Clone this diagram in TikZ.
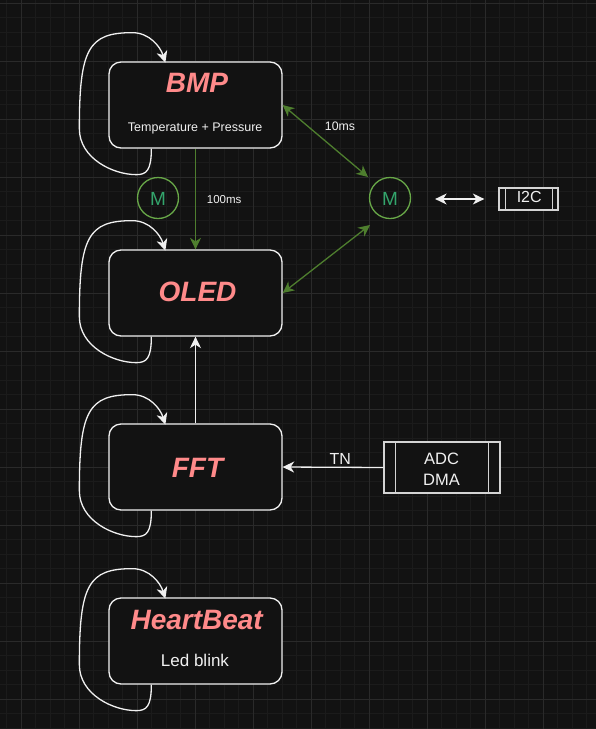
\documentclass[tikz,border=0pt]{standalone}
\usepackage{fontspec}
\setmainfont{Liberation Sans}
\usetikzlibrary{arrows.meta,calc}
\definecolor{bg}{HTML}{121212}
\definecolor{gridminor}{HTML}{1B1B1B}
\definecolor{gridmajor}{HTML}{2A2A2A}
\definecolor{boxline}{HTML}{F0F0F0}
\definecolor{titlered}{HTML}{FF8A8A}
\definecolor{txt}{HTML}{F0F0F0}
\definecolor{garrowc}{HTML}{4E7E2E}
\definecolor{mcircle}{HTML}{68A848}
\definecolor{mtext}{HTML}{33A56C}
\definecolor{procline}{HTML}{D4D4D4}
\begin{document}
\begin{tikzpicture}[x=1pt,y=-1pt,
  box/.style={draw=boxline, fill=bg, rounded corners=12pt, minimum width=173pt, minimum height=86pt, line width=1.3pt, inner sep=0pt},
  title/.style={text=titlered, font=\fontsize{28}{30}\selectfont\bfseries\itshape, anchor=base, inner sep=0pt},
  sub/.style={text=txt, anchor=base, inner sep=0pt},
  proc/.style={draw=procline, fill=bg, line width=1.3pt, inner sep=0pt},
  mnode/.style={circle, draw=mcircle, line width=1.3pt, minimum size=41pt, inner sep=0pt},
  mlabel/.style={text=mtext, font=\fontsize{19}{21}\selectfont, anchor=base, inner sep=0pt},
  wline/.style={draw=boxline, line width=1.3pt},
  tipw/.style={-{Stealth[length=11.5pt,width=11pt,inset=3.5pt]}},
  loopedge/.style={wline, tipw},
  garrow/.style={draw=garrowc, line width=1.3pt, {Stealth[length=11.5pt,width=11pt,inset=3.5pt]}-{Stealth[length=11.5pt,width=11pt,inset=3.5pt]}},
  gdown/.style={draw=garrowc, line width=1.3pt, -{Stealth[length=11.5pt,width=11pt,inset=3.5pt]}},
  wdouble/.style={wline, {Stealth[length=11.5pt,width=11pt,inset=3.5pt]}-{Stealth[length=11.5pt,width=11pt,inset=3.5pt]}},
]
\fill[bg] (0,0) rectangle (596,729);
\useasboundingbox (0,0) rectangle (596,729);
% grid
\foreach \k in {-1,...,40} \draw[gridminor, line width=0.8pt] ({21.3+14.5*\k},0) -- ({21.3+14.5*\k},729);
\foreach \k in {0,...,50} \draw[gridminor, line width=0.8pt] (0,{3.3+14.5*\k}) -- (596,{3.3+14.5*\k});
\foreach \k in {0,...,9} \draw[gridmajor, line width=0.9pt] ({21.3+58*\k},0) -- ({21.3+58*\k},729);
\foreach \k in {0,...,12} \draw[gridmajor, line width=0.9pt] (0,{3.3+58*\k}) -- (596,{3.3+58*\k});

% boxes
\node[box] (bmp) at (195.5,105) {};
\node[box] (oled) at (195.5,293) {};
\node[box] (fft) at (195.5,467) {};
\node[box] (hb) at (195.5,641) {};

\node[title] (bmpt) at (197,92.7) {BMP};
\node[sub, font=\fontsize{12.5}{14}\selectfont] (bmps) at (195.2,131.2) {Temperature + Pressure};
\node[title] (oledt) at (197.5,301.3) {OLED};
\node[title] (fftt) at (197.5,477.3) {FFT};
\node[title] (hbt) at (196.7,629.3) {HeartBeat};
\node[sub, font=\fontsize{17}{19}\selectfont] (hbs) at (195,666.7) {Led blink};

% self loops
\foreach \n in {bmp,oled,fft,hb}{
  \draw[loopedge] ($(\n.south west)+(43,0)$)
    .. controls ($(\n.south west)+(43,22)$) and ($(\n.south west)+(38,26)$) .. ($(\n.south west)+(28,26)$)
    .. controls ($(\n.south west)+(5,26)$) and ($(\n.south west)+(-29,10)$) .. ($(\n.south west)+(-29,-20)$)
    .. controls ($(\n.south west)+(-29,-100)$) and ($(\n.south west)+(-20,-116)$) .. ($(\n.south west)+(24,-116)$)
    .. controls ($(\n.south west)+(41,-116)$) and ($(\n.south west)+(52,-102)$) .. ($(\n.south west)+(57,-86)$);
}

% M circles
\node[mnode] (m1) at (158,198) {};
\node[mlabel] (m1t) at (158,205.7) {M};
\node[mnode] (m2) at (390,198) {};
\node[mlabel] (m2t) at (390,205.7) {M};

% green arrows
\draw[gdown] (bmp.south) -- (oled.north);
\node[sub, font=\fontsize{11.5}{13}\selectfont] (l100) at (224.2,203.3) {100ms};
\draw[garrow] (bmp.east) -- ($(m2)+(-22,-21)$);
\node[sub, font=\fontsize{12.3}{14}\selectfont] (l10) at (340,130.7) {10ms};
\draw[garrow] (oled.east) -- ($(m2)+(-20,27)$);

% I2C
\node[proc, minimum width=59pt, minimum height=22pt] (i2c) at (528.5,199) {};
\draw[procline, line width=1.3pt] ($(i2c.north west)+(7,0)$) -- ($(i2c.south west)+(7,0)$);
\draw[procline, line width=1.3pt] ($(i2c.north east)+(-6,0)$) -- ($(i2c.south east)+(-6,0)$);
\node[sub, font=\fontsize{16}{18}\selectfont] (i2ct) at (529.2,202.7) {I2C};
\draw[wdouble] ($(m2.east)+(24,1)$) -- ($(i2c.west)+(-14,0)$);

% FFT -> OLED
\draw[wline, tipw] (fft.north) -- (oled.south);

% ADC DMA
\node[proc, minimum width=116pt, minimum height=51pt] (adc) at (442,467.5) {};
\draw[procline, line width=1.3pt] ($(adc.north west)+(12,0)$) -- ($(adc.south west)+(12,0)$);
\draw[procline, line width=1.3pt] ($(adc.north east)+(-12,0)$) -- ($(adc.south east)+(-12,0)$);
\node[sub, font=\fontsize{16.5}{18}\selectfont] (adct) at (441.5,464.3) {ADC};
\node[sub, font=\fontsize{16.5}{18}\selectfont] (dmat) at (441.5,485) {DMA};
\draw[wline, tipw] (adc.west) -- (fft.east);
\node[sub, font=\fontsize{16}{18}\selectfont] (tn) at (340.2,464) {TN};
\end{tikzpicture}
\end{document}
